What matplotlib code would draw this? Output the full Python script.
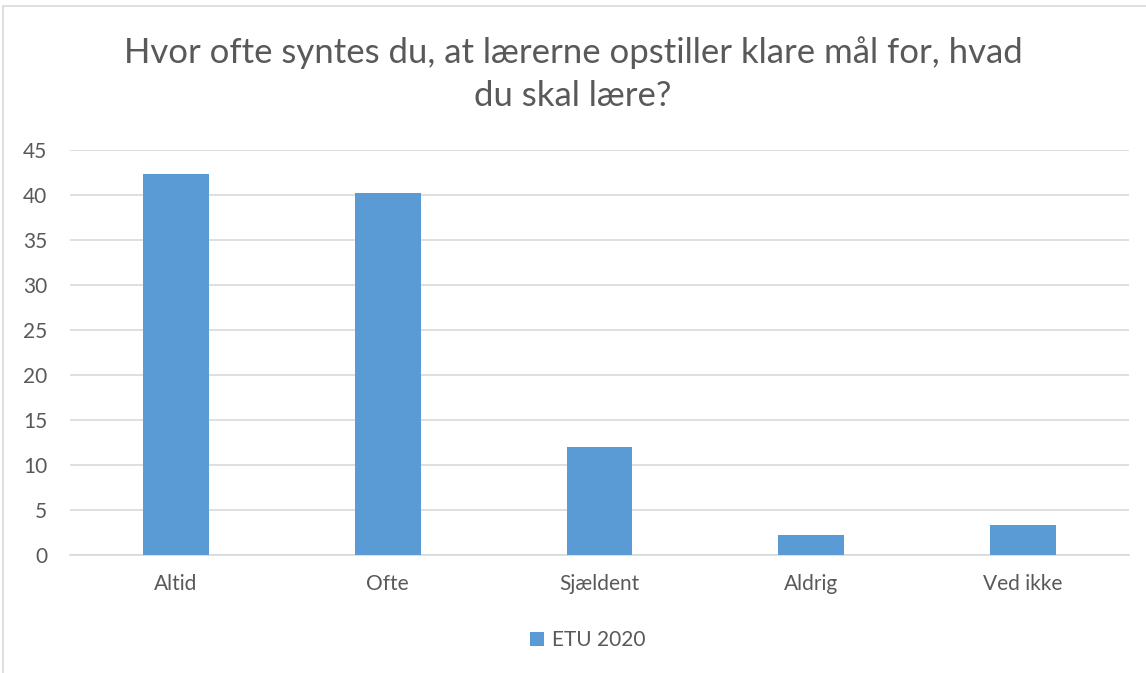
import matplotlib.pyplot as plt
from matplotlib.patches import Rectangle

# data
kategorier = ['Altid', 'Ofte', 'Sjældent', 'Aldrig', 'Ved ikke']
etu_2020 = [42.3, 40.2, 12.0, 2.2, 3.3]
titel = 'Hvor ofte syntes du, at lærerne opstiller klare mål for, hvad\ndu skal lære?'

plt.rcParams['font.family'] = ['Lato', 'DejaVu Sans']
graa_tekst = '#595959'
blaa = '#5b9bd5'

fig = plt.figure(figsize=(11.46, 6.73), dpi=100)
# ramme om diagrammet
fig.patches.append(Rectangle((3 / 1146, -0.1), 1.2, 1.1 - 6 / 673,
                             transform=fig.transFigure, fill=False,
                             edgecolor='#d9d9d9', linewidth=1.2))
ax = fig.add_axes([70 / 1146, 1 - 555 / 673, (1129 - 70) / 1146, (555 - 150) / 673])

x = range(len(kategorier))
ax.bar(x, etu_2020, width=0.31, color=blaa, label='ETU 2020', zorder=3)

ax.set_xlim(-0.5, len(kategorier) - 0.5)
ax.set_ylim(0, 45)
ax.set_yticks(range(0, 46, 5))
ax.set_xticks(list(x))
ax.set_xticklabels(kategorier)
ax.grid(axis='y', color='#d9d9d9', linewidth=1.2, zorder=0)
for s in ['top', 'right', 'left']:
    ax.spines[s].set_visible(False)
ax.spines['bottom'].set_color('#d9d9d9')
ax.spines['bottom'].set_linewidth(1.2)
ax.tick_params(length=0, labelsize=15, colors=graa_tekst)
ax.tick_params(axis='x', pad=14)
ax.tick_params(axis='y', pad=16.5)

fig.text(0.5, 1 - 74 / 673, titel, ha='center', va='center', fontsize=25,
         color=graa_tekst, linespacing=1.4)
fig.legend(loc='center', bbox_to_anchor=(0.513, 1 - 640 / 673), frameon=False,
           fontsize=15, labelcolor=graa_tekst, handlelength=0.65, handleheight=0.65,
           handletextpad=0.4)

fig.savefig('out.png', dpi=100)
